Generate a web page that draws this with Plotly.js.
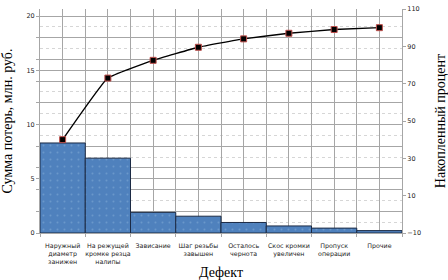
<!DOCTYPE html>
<html>
<head>
<meta charset="utf-8">
<script src="https://cdn.plot.ly/plotly-3.0.1.min.js"></script>
<style>html,body{margin:0;padding:0;background:#fff;}#chart{width:448px;height:280px;}</style>
</head>
<body>
<div id="chart"></div>
<script>
const categories = [
  "Наружный<br>диаметр<br>занижен",
  "На режущей<br>кромке резца<br>налипы",
  "Зависание",
  "Шаг резьбы<br>завышен",
  "Осталось<br>чернота",
  "Скос кромки<br>увеличен",
  "Пропуск<br>операции",
  "Прочие"
];
const losses = [8.3, 6.9, 1.9, 1.55, 0.97, 0.65, 0.45, 0.22];
const cumulativePct = [40, 73, 82.5, 89.5, 94, 97, 99, 100];
const leftTickVals = [0, 2, 4, 5, 6, 8, 10, 12, 14, 15, 16, 18, 20];
const leftTickText = ["0", "", "", "5", "", "", "10", "", "", "15", "", "", "20"];
const rightTickVals = [-10, 10, 30, 50, 70, 90, 110];

const serif = "Liberation Serif, Times New Roman, serif";
const sans = "DejaVu Sans, Verdana, sans-serif";

const bars = {
  type: "bar", x: categories, y: losses, xaxis: "x", yaxis: "y", width: 1,
  marker: {color: "#4f81bd", line: {color: "#1b2a44", width: 1},
    pattern: {shape: ".", fillmode: "overlay", fgcolor: "#86b0d8", size: 7, solidity: 0.06}},
  hoverinfo: "skip"
};
const line = {
  type: "scatter", mode: "lines+markers", x: categories, y: cumulativePct, xaxis: "x2", yaxis: "y2",
  line: {color: "#000", width: 1.4, shape: "spline", smoothing: 0.3},
  marker: {symbol: "square", size: 6, color: "#000", line: {color: "#c0504d", width: 1}},
  hoverinfo: "skip"
};

const layout = {
  width: 448, height: 280,
  margin: {l: 40, r: 46, t: 9, b: 47, pad: 0, autoexpand: false},
  paper_bgcolor: "#fff", plot_bgcolor: "#fff",
  showlegend: false, bargap: 0,
  xaxis: {
    type: "category", range: [-0.5, 7.5], tickson: "boundaries",
    showgrid: true, gridcolor: "#a6a6a6", gridwidth: 1,
    ticks: "outside", ticklen: 3, tickcolor: "#a6a6a6",
    showline: true, linecolor: "#a6a6a6",
    tickfont: {family: sans, size: 6.3, color: "#222"},
    ticklabelstandoff: 6, tickangle: 0, automargin: false,
    title: {text: "Дефект", font: {family: serif, size: 14, color: "#000"}}
  },
  xaxis2: {
    type: "category", overlaying: "x", range: [-0.5, 7.5],
    showgrid: true, gridcolor: "#a6a6a6", gridwidth: 1,
    showticklabels: false, ticks: "", zeroline: false, automargin: false
  },
  yaxis: {
    range: [0, 20.65], tickmode: "array", tickvals: leftTickVals, ticktext: leftTickText,
    showgrid: true, gridcolor: "#a6a6a6", gridwidth: 1,
    minor: {dtick: 1, tick0: 0, showgrid: true, gridcolor: "#d6d6d6", griddash: "dot", ticks: ""},
    ticks: "outside", ticklen: 3, tickcolor: "#a6a6a6",
    showline: true, linecolor: "#a6a6a6", zeroline: false,
    tickfont: {family: sans, size: 6.5, color: "#222"}, automargin: false,
    title: {text: "Сумма потерь, млн. руб.", font: {family: serif, size: 14, color: "#000"}}
  },
  yaxis2: {
    overlaying: "y", side: "right", range: [-10, 110], tickmode: "array", tickvals: rightTickVals,
    showgrid: false, ticks: "outside", ticklen: 3, tickcolor: "#a6a6a6",
    showline: true, linecolor: "#a6a6a6", zeroline: false,
    tickfont: {family: sans, size: 6.5, color: "#222"}, automargin: false,
    title: {text: "Накопленный процент", font: {family: serif, size: 14, color: "#000"}}
  }
};

Plotly.newPlot("chart", [bars, line], layout, {staticPlot: true, displayModeBar: false});
</script>
</body>
</html>
